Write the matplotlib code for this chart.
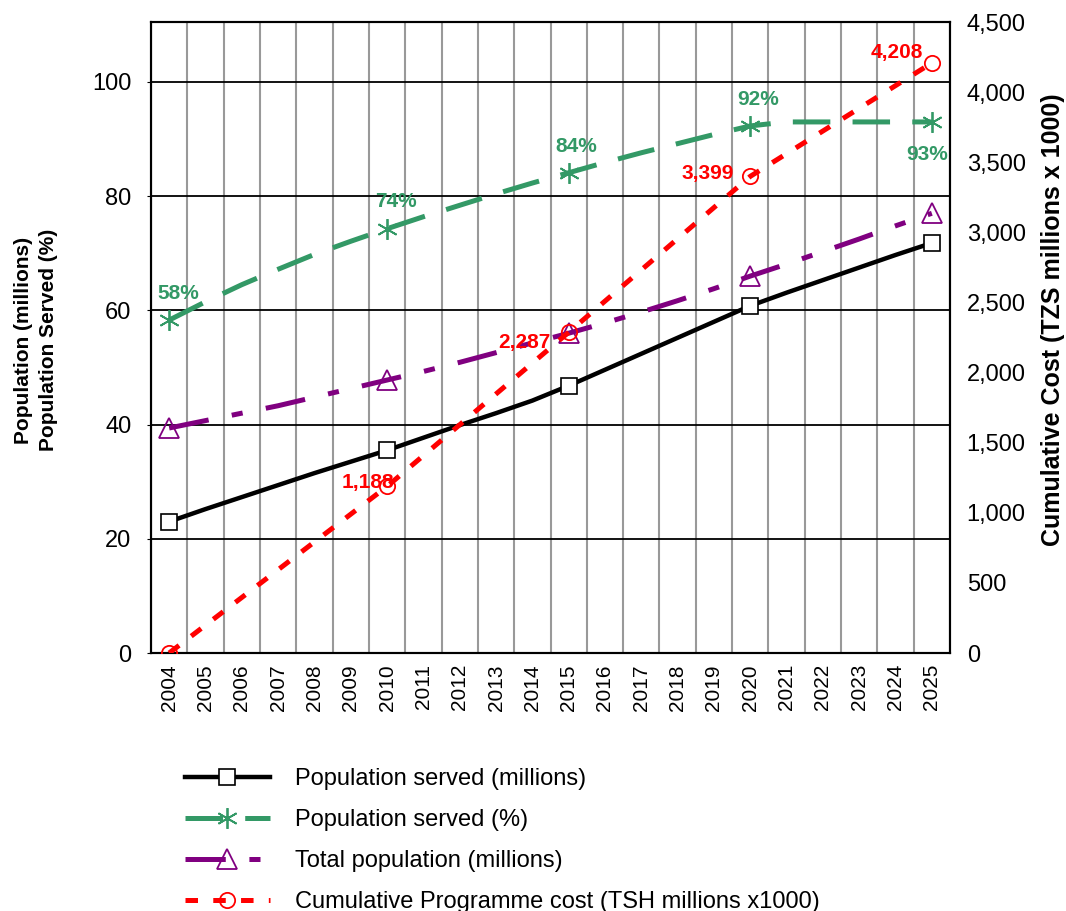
import numpy as np
import matplotlib
matplotlib.use("Agg")
import matplotlib.pyplot as plt

plt.rcParams['font.family'] = ['Liberation Sans', 'DejaVu Sans']
plt.rcParams['lines.scale_dashes'] = False
narrow = ['Liberation Sans Narrow', 'Liberation Sans', 'DejaVu Sans']

years = list(range(2004, 2026))

# population served (millions)
pop_served = [23.0, 25.2, 27.3, 29.4, 31.5, 33.5, 35.5, 37.7, 39.9, 42.0, 44.2,
              46.8, 49.6, 52.4, 55.2, 58.0, 60.8, 63.1, 65.3, 67.5, 69.7, 71.8]
# population served (%)
pct_served = [58.3, 61.5, 64.5, 67.2, 69.8, 72.1, 74.3, 76.4, 78.4, 80.4, 82.3,
              84.1, 85.9, 87.6, 89.2, 90.8, 92.3, 93.0, 93.0, 93.0, 93.0, 93.0]
# total population (millions)
total_pop = [39.4, 40.7, 42.0, 43.3, 44.8, 46.3, 47.8, 49.3, 50.9, 52.6, 54.3,
             56.0, 57.8, 59.7, 61.7, 63.8, 66.0, 68.1, 70.3, 72.5, 74.8, 77.0]
# cumulative programme cost (TZS millions x 1000)
cost_years = [2004, 2010, 2015, 2020, 2025]
cost = [0, 1188, 2287, 3399, 4208]

marker_years = [2004, 2010, 2015, 2020, 2025]
pct_labels = ["58%", "74%", "84%", "92%", "93%"]
cost_labels = ["", "1,188", "2,287", "3,399", "4,208"]

x = np.arange(len(years))
mk = [years.index(y) for y in marker_years]
xc = [years.index(y) for y in cost_years]

green = '#339966'
purple = '#800080'
red = '#ff0000'

fig = plt.figure(figsize=(10.66, 9.11), dpi=100)
ax = fig.add_axes([151/1066, 1-653/911, 799/1066, 631/911])
ax2 = ax.twinx()

l1, = ax.plot(x, pop_served, color='black', lw=3.2, marker='s', ms=11.5,
              mfc='white', mec='black', mew=1.2, markevery=mk, zorder=3)
l2, = ax.plot(x, pct_served, color=green, lw=3.6, dashes=(27, 16), marker=(6, 2, 0),
              ms=15, mec=green, mew=1.3, markevery=mk, zorder=3)
l3, = ax.plot(x, total_pop, color=purple, lw=3.6, dashes=(29, 17, 8, 17), marker='^',
              ms=14, mfc='none', mec=purple, mew=1.3, markevery=mk, zorder=3)
l4, = ax2.plot(xc, cost, color=red, lw=3.6, dashes=(9, 11), marker='o', ms=11,
               mfc='none', mec=red, mew=1.3, zorder=3)

# value labels (pixel offsets from the marker)
pct_off = [(9, 27), (9, 27), (8, 26), (8, 26), (-5, -33)]
for k, t, (dx, dy) in zip(mk, pct_labels, pct_off):
    ax.annotate(t, (k, pct_served[k]), xytext=(dx, dy),
                textcoords='offset pixels', ha='center', va='center',
                color=green, fontsize=15, fontweight='bold', family=narrow)
cost_off = [(0, 0), (7, 4), (-18, -10), (-16, 3), (-9, 10)]
for k, v, t, (dx, dy) in zip(xc, cost, cost_labels, cost_off):
    if t:
        ax2.annotate(t, (k, v), xytext=(dx, dy), textcoords='offset pixels',
                     ha='right', va='center', color=red, fontsize=15,
                     fontweight='bold', family=narrow)

ax.set_xlim(-0.5, len(years) - 0.5)
ax.set_ylim(0, 110.5)
ax2.set_ylim(0, 4500)

ax.set_xticks(x)
ax.set_xticklabels([str(y) for y in years], rotation=90, fontsize=15)
ax.set_xticks(np.arange(-0.5, len(years), 1), minor=True)
ax.tick_params(axis='x', which='both', length=0, pad=8)
ax.grid(True, axis='x', which='minor', color='#999999', lw=1.5)

ax.set_yticks([0, 20, 40, 60, 80, 100])
ax.tick_params(axis='y', labelsize=17, length=3, pad=11)
ax.grid(True, axis='y', which='major', color='black', lw=1.3)
ax.set_axisbelow(True)

ax2.set_yticks(np.arange(0, 4501, 500))
ax2.set_yticklabels([f"{v:,}" for v in range(0, 4501, 500)])
ax2.tick_params(axis='y', labelsize=17, length=0, pad=12)

for a in (ax, ax2):
    for s in a.spines.values():
        s.set_linewidth(1.5)

fig.text(36/1066, 1-340/911, "Population (millions)\nPopulation Served (%)",
         rotation=90, ha='center', va='center', fontsize=15, fontweight='bold',
         family=narrow, multialignment='center', linespacing=1.35)
fig.text(1053/1066, 1-320/911, "Cumulative Cost (TZS millions x 1000)",
         rotation=90, ha='center', va='center', fontsize=18, fontweight='bold',
         family=narrow)

fig.legend([l1, l2, l3, l4],
           ["Population served (millions)", "Population served (%)",
            "Total population (millions)",
            "Cumulative Programme cost (TSH millions x1000)"],
           loc='upper left', bbox_to_anchor=(176/1066, 1-759/911), frameon=False,
           fontsize=17, handlelength=3.56, handletextpad=1.1, labelspacing=0.8,
           borderaxespad=0)

fig.savefig("out.png", dpi=100)
